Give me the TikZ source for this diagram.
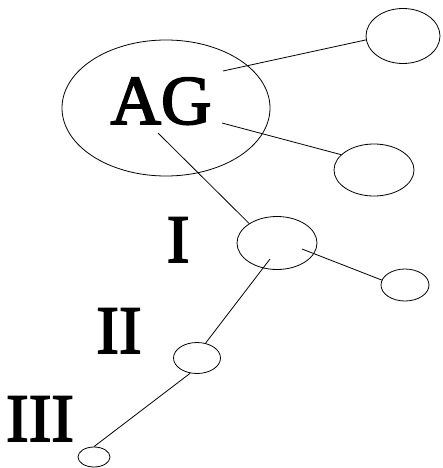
\documentclass[tikz,border=0pt]{standalone}
\usepackage{fontspec}
\setmainfont{Liberation Serif}
\newfontfamily\heavyserif[FakeBold=2.5]{Liberation Serif}
\usetikzlibrary{shapes.geometric}
\tikzset{
  oval/.style={draw, ellipse, inner sep=0pt, line width=0.8pt},
  conn/.style={line width=0.8pt},
  bigtext/.style={font=\heavyserif\fontsize{68}{68}\selectfont, inner sep=0pt, anchor=base}
}
\begin{document}
\begin{tikzpicture}[x=1pt,y=-1pt]
\useasboundingbox (0,0) rectangle (442,468);
% ellipses
\node[oval, minimum width=208pt, minimum height=136pt] (agE) at (166,108) {};
\node[oval, minimum width=74pt, minimum height=55pt] (tr) at (403,36) {};
\node[oval, minimum width=80pt, minimum height=52pt] (r2) at (374,170) {};
\node[oval, minimum width=80pt, minimum height=53pt] (e1) at (277,243) {};
\node[oval, minimum width=48pt, minimum height=32pt] (r3) at (405,285) {};
\node[oval, minimum width=47pt, minimum height=31pt] (e2) at (197,358) {};
\node[oval, minimum width=32pt, minimum height=20pt] (e3) at (94,457) {};
% labels
\node[bigtext, font=\heavyserif\fontsize{70}{70}\selectfont] (ag) at (161,124) {AG};
\node[bigtext] (l1) at (178,262) {I};
\node[bigtext] (l2) at (119,353) {II};
\node[bigtext] (l3) at (40,441) {III};
% free ends inside big ellipses
\coordinate (a1) at (223,71);
\coordinate (a2) at (222,123);
\coordinate (a3) at (158,133);
\coordinate (b1) at (302,249);
\coordinate (b2) at (270,259);
% connectors
\draw[conn] (a1) -- (tr.186);
\draw[conn] (a2) -- (r2.155);
\draw[conn] (a3) -- (e1.145);
\draw[conn] (b1) -- (r3.168);
\draw[conn] (b2) -- (e2.60);
\draw[conn] (e2.246) -- (e3.90);
\end{tikzpicture}
\end{document}
